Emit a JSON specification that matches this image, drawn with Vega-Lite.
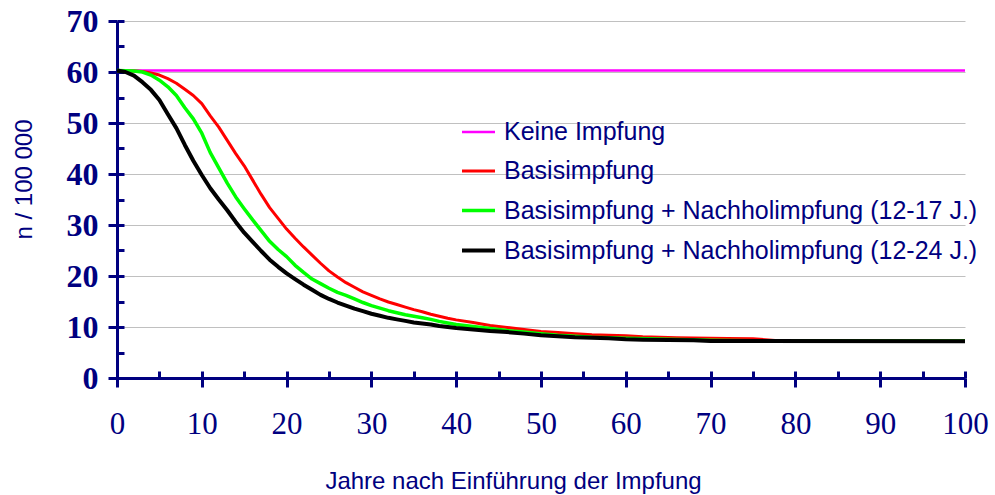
{
  "$schema": "https://vega.github.io/schema/vega-lite/v6.json",
  "width": 848,
  "height": 357,
  "autosize": "none",
  "padding": {"left": 117, "top": 21, "right": 30, "bottom": 117},
  "background": "white",
  "config": {"view": {"stroke": null}},
  "datasets": {
    "main": [
      {"year": 0, "series": "Keine Impfung", "value": 60.3},
      {"year": 100, "series": "Keine Impfung", "value": 60.3},

      {"year": 0, "series": "Basisimpfung", "value": 60.2},
      {"year": 2, "series": "Basisimpfung", "value": 60.2},
      {"year": 3, "series": "Basisimpfung", "value": 60.1},
      {"year": 4, "series": "Basisimpfung", "value": 59.8},
      {"year": 5, "series": "Basisimpfung", "value": 59.4},
      {"year": 6, "series": "Basisimpfung", "value": 58.7},
      {"year": 7, "series": "Basisimpfung", "value": 57.8},
      {"year": 8, "series": "Basisimpfung", "value": 56.6},
      {"year": 9, "series": "Basisimpfung", "value": 55.4},
      {"year": 10, "series": "Basisimpfung", "value": 53.8},
      {"year": 11, "series": "Basisimpfung", "value": 51.4},
      {"year": 12, "series": "Basisimpfung", "value": 49.2},
      {"year": 13, "series": "Basisimpfung", "value": 46.6},
      {"year": 14, "series": "Basisimpfung", "value": 44.0},
      {"year": 15, "series": "Basisimpfung", "value": 41.6},
      {"year": 16, "series": "Basisimpfung", "value": 38.8},
      {"year": 17, "series": "Basisimpfung", "value": 36.0},
      {"year": 18, "series": "Basisimpfung", "value": 33.4},
      {"year": 19, "series": "Basisimpfung", "value": 31.3},
      {"year": 20, "series": "Basisimpfung", "value": 29.2},
      {"year": 21, "series": "Basisimpfung", "value": 27.4},
      {"year": 22, "series": "Basisimpfung", "value": 25.7},
      {"year": 23, "series": "Basisimpfung", "value": 24.1},
      {"year": 24, "series": "Basisimpfung", "value": 22.5},
      {"year": 25, "series": "Basisimpfung", "value": 21.0},
      {"year": 26, "series": "Basisimpfung", "value": 19.8},
      {"year": 27, "series": "Basisimpfung", "value": 18.7},
      {"year": 28, "series": "Basisimpfung", "value": 17.8},
      {"year": 29, "series": "Basisimpfung", "value": 16.9},
      {"year": 30, "series": "Basisimpfung", "value": 16.2},
      {"year": 31, "series": "Basisimpfung", "value": 15.5},
      {"year": 32, "series": "Basisimpfung", "value": 14.9},
      {"year": 33, "series": "Basisimpfung", "value": 14.4},
      {"year": 34, "series": "Basisimpfung", "value": 13.9},
      {"year": 35, "series": "Basisimpfung", "value": 13.4},
      {"year": 36, "series": "Basisimpfung", "value": 13.0},
      {"year": 37, "series": "Basisimpfung", "value": 12.5},
      {"year": 38, "series": "Basisimpfung", "value": 12.1},
      {"year": 39, "series": "Basisimpfung", "value": 11.7},
      {"year": 40, "series": "Basisimpfung", "value": 11.4},
      {"year": 42, "series": "Basisimpfung", "value": 10.9},
      {"year": 44, "series": "Basisimpfung", "value": 10.3},
      {"year": 46, "series": "Basisimpfung", "value": 9.9},
      {"year": 48, "series": "Basisimpfung", "value": 9.5},
      {"year": 50, "series": "Basisimpfung", "value": 9.1},
      {"year": 52, "series": "Basisimpfung", "value": 8.9},
      {"year": 54, "series": "Basisimpfung", "value": 8.7},
      {"year": 56, "series": "Basisimpfung", "value": 8.5},
      {"year": 58, "series": "Basisimpfung", "value": 8.4},
      {"year": 60, "series": "Basisimpfung", "value": 8.3},
      {"year": 62, "series": "Basisimpfung", "value": 8.1},
      {"year": 64, "series": "Basisimpfung", "value": 8.0},
      {"year": 66, "series": "Basisimpfung", "value": 7.9},
      {"year": 68, "series": "Basisimpfung", "value": 7.85},
      {"year": 70, "series": "Basisimpfung", "value": 7.8},
      {"year": 72, "series": "Basisimpfung", "value": 7.75},
      {"year": 75, "series": "Basisimpfung", "value": 7.7},
      {"year": 78, "series": "Basisimpfung", "value": 7.3},
      {"year": 85, "series": "Basisimpfung", "value": 7.25},
      {"year": 100, "series": "Basisimpfung", "value": 7.25},

      {"year": 0, "series": "Basisimpfung + Nachholimpfung (12-17 J.)", "value": 60.3},
      {"year": 2, "series": "Basisimpfung + Nachholimpfung (12-17 J.)", "value": 60.2},
      {"year": 3, "series": "Basisimpfung + Nachholimpfung (12-17 J.)", "value": 60.0},
      {"year": 4, "series": "Basisimpfung + Nachholimpfung (12-17 J.)", "value": 59.4},
      {"year": 5, "series": "Basisimpfung + Nachholimpfung (12-17 J.)", "value": 58.4},
      {"year": 6, "series": "Basisimpfung + Nachholimpfung (12-17 J.)", "value": 57.1},
      {"year": 7, "series": "Basisimpfung + Nachholimpfung (12-17 J.)", "value": 55.4},
      {"year": 8, "series": "Basisimpfung + Nachholimpfung (12-17 J.)", "value": 53.0},
      {"year": 9, "series": "Basisimpfung + Nachholimpfung (12-17 J.)", "value": 50.8},
      {"year": 10, "series": "Basisimpfung + Nachholimpfung (12-17 J.)", "value": 48.0},
      {"year": 11, "series": "Basisimpfung + Nachholimpfung (12-17 J.)", "value": 44.2},
      {"year": 12, "series": "Basisimpfung + Nachholimpfung (12-17 J.)", "value": 41.2},
      {"year": 13, "series": "Basisimpfung + Nachholimpfung (12-17 J.)", "value": 38.2},
      {"year": 14, "series": "Basisimpfung + Nachholimpfung (12-17 J.)", "value": 35.5},
      {"year": 15, "series": "Basisimpfung + Nachholimpfung (12-17 J.)", "value": 33.2},
      {"year": 16, "series": "Basisimpfung + Nachholimpfung (12-17 J.)", "value": 31.0},
      {"year": 17, "series": "Basisimpfung + Nachholimpfung (12-17 J.)", "value": 28.9},
      {"year": 18, "series": "Basisimpfung + Nachholimpfung (12-17 J.)", "value": 26.8},
      {"year": 19, "series": "Basisimpfung + Nachholimpfung (12-17 J.)", "value": 25.2},
      {"year": 20, "series": "Basisimpfung + Nachholimpfung (12-17 J.)", "value": 23.8},
      {"year": 21, "series": "Basisimpfung + Nachholimpfung (12-17 J.)", "value": 22.1},
      {"year": 22, "series": "Basisimpfung + Nachholimpfung (12-17 J.)", "value": 20.7},
      {"year": 23, "series": "Basisimpfung + Nachholimpfung (12-17 J.)", "value": 19.4},
      {"year": 24, "series": "Basisimpfung + Nachholimpfung (12-17 J.)", "value": 18.5},
      {"year": 25, "series": "Basisimpfung + Nachholimpfung (12-17 J.)", "value": 17.6},
      {"year": 26, "series": "Basisimpfung + Nachholimpfung (12-17 J.)", "value": 16.8},
      {"year": 27, "series": "Basisimpfung + Nachholimpfung (12-17 J.)", "value": 16.2},
      {"year": 28, "series": "Basisimpfung + Nachholimpfung (12-17 J.)", "value": 15.5},
      {"year": 29, "series": "Basisimpfung + Nachholimpfung (12-17 J.)", "value": 14.8},
      {"year": 30, "series": "Basisimpfung + Nachholimpfung (12-17 J.)", "value": 14.2},
      {"year": 31, "series": "Basisimpfung + Nachholimpfung (12-17 J.)", "value": 13.7},
      {"year": 32, "series": "Basisimpfung + Nachholimpfung (12-17 J.)", "value": 13.2},
      {"year": 33, "series": "Basisimpfung + Nachholimpfung (12-17 J.)", "value": 12.8},
      {"year": 34, "series": "Basisimpfung + Nachholimpfung (12-17 J.)", "value": 12.4},
      {"year": 35, "series": "Basisimpfung + Nachholimpfung (12-17 J.)", "value": 12.1},
      {"year": 36, "series": "Basisimpfung + Nachholimpfung (12-17 J.)", "value": 11.8},
      {"year": 37, "series": "Basisimpfung + Nachholimpfung (12-17 J.)", "value": 11.5},
      {"year": 38, "series": "Basisimpfung + Nachholimpfung (12-17 J.)", "value": 11.1},
      {"year": 39, "series": "Basisimpfung + Nachholimpfung (12-17 J.)", "value": 10.8},
      {"year": 40, "series": "Basisimpfung + Nachholimpfung (12-17 J.)", "value": 10.5},
      {"year": 42, "series": "Basisimpfung + Nachholimpfung (12-17 J.)", "value": 10.1},
      {"year": 44, "series": "Basisimpfung + Nachholimpfung (12-17 J.)", "value": 9.7},
      {"year": 46, "series": "Basisimpfung + Nachholimpfung (12-17 J.)", "value": 9.3},
      {"year": 48, "series": "Basisimpfung + Nachholimpfung (12-17 J.)", "value": 9.0},
      {"year": 50, "series": "Basisimpfung + Nachholimpfung (12-17 J.)", "value": 8.7},
      {"year": 52, "series": "Basisimpfung + Nachholimpfung (12-17 J.)", "value": 8.4},
      {"year": 54, "series": "Basisimpfung + Nachholimpfung (12-17 J.)", "value": 8.2},
      {"year": 56, "series": "Basisimpfung + Nachholimpfung (12-17 J.)", "value": 8.0},
      {"year": 58, "series": "Basisimpfung + Nachholimpfung (12-17 J.)", "value": 7.9},
      {"year": 60, "series": "Basisimpfung + Nachholimpfung (12-17 J.)", "value": 7.8},
      {"year": 65, "series": "Basisimpfung + Nachholimpfung (12-17 J.)", "value": 7.6},
      {"year": 70, "series": "Basisimpfung + Nachholimpfung (12-17 J.)", "value": 7.4},
      {"year": 75, "series": "Basisimpfung + Nachholimpfung (12-17 J.)", "value": 7.3},
      {"year": 80, "series": "Basisimpfung + Nachholimpfung (12-17 J.)", "value": 7.25},
      {"year": 100, "series": "Basisimpfung + Nachholimpfung (12-17 J.)", "value": 7.25},

      {"year": 0, "series": "Basisimpfung + Nachholimpfung (12-24 J.)", "value": 60.3},
      {"year": 1, "series": "Basisimpfung + Nachholimpfung (12-24 J.)", "value": 60.0},
      {"year": 2, "series": "Basisimpfung + Nachholimpfung (12-24 J.)", "value": 59.3},
      {"year": 3, "series": "Basisimpfung + Nachholimpfung (12-24 J.)", "value": 58.0},
      {"year": 4, "series": "Basisimpfung + Nachholimpfung (12-24 J.)", "value": 56.5},
      {"year": 5, "series": "Basisimpfung + Nachholimpfung (12-24 J.)", "value": 54.5},
      {"year": 6, "series": "Basisimpfung + Nachholimpfung (12-24 J.)", "value": 51.7},
      {"year": 7, "series": "Basisimpfung + Nachholimpfung (12-24 J.)", "value": 49.0},
      {"year": 8, "series": "Basisimpfung + Nachholimpfung (12-24 J.)", "value": 45.7},
      {"year": 9, "series": "Basisimpfung + Nachholimpfung (12-24 J.)", "value": 42.6},
      {"year": 10, "series": "Basisimpfung + Nachholimpfung (12-24 J.)", "value": 39.8},
      {"year": 11, "series": "Basisimpfung + Nachholimpfung (12-24 J.)", "value": 37.2},
      {"year": 12, "series": "Basisimpfung + Nachholimpfung (12-24 J.)", "value": 35.0},
      {"year": 13, "series": "Basisimpfung + Nachholimpfung (12-24 J.)", "value": 32.9},
      {"year": 14, "series": "Basisimpfung + Nachholimpfung (12-24 J.)", "value": 30.6},
      {"year": 15, "series": "Basisimpfung + Nachholimpfung (12-24 J.)", "value": 28.5},
      {"year": 16, "series": "Basisimpfung + Nachholimpfung (12-24 J.)", "value": 26.7},
      {"year": 17, "series": "Basisimpfung + Nachholimpfung (12-24 J.)", "value": 24.9},
      {"year": 18, "series": "Basisimpfung + Nachholimpfung (12-24 J.)", "value": 23.2},
      {"year": 19, "series": "Basisimpfung + Nachholimpfung (12-24 J.)", "value": 21.8},
      {"year": 20, "series": "Basisimpfung + Nachholimpfung (12-24 J.)", "value": 20.5},
      {"year": 21, "series": "Basisimpfung + Nachholimpfung (12-24 J.)", "value": 19.4},
      {"year": 22, "series": "Basisimpfung + Nachholimpfung (12-24 J.)", "value": 18.3},
      {"year": 23, "series": "Basisimpfung + Nachholimpfung (12-24 J.)", "value": 17.3},
      {"year": 24, "series": "Basisimpfung + Nachholimpfung (12-24 J.)", "value": 16.3},
      {"year": 25, "series": "Basisimpfung + Nachholimpfung (12-24 J.)", "value": 15.5},
      {"year": 26, "series": "Basisimpfung + Nachholimpfung (12-24 J.)", "value": 14.8},
      {"year": 27, "series": "Basisimpfung + Nachholimpfung (12-24 J.)", "value": 14.2},
      {"year": 28, "series": "Basisimpfung + Nachholimpfung (12-24 J.)", "value": 13.6},
      {"year": 29, "series": "Basisimpfung + Nachholimpfung (12-24 J.)", "value": 13.1},
      {"year": 30, "series": "Basisimpfung + Nachholimpfung (12-24 J.)", "value": 12.6},
      {"year": 31, "series": "Basisimpfung + Nachholimpfung (12-24 J.)", "value": 12.2},
      {"year": 32, "series": "Basisimpfung + Nachholimpfung (12-24 J.)", "value": 11.8},
      {"year": 33, "series": "Basisimpfung + Nachholimpfung (12-24 J.)", "value": 11.5},
      {"year": 34, "series": "Basisimpfung + Nachholimpfung (12-24 J.)", "value": 11.2},
      {"year": 35, "series": "Basisimpfung + Nachholimpfung (12-24 J.)", "value": 10.9},
      {"year": 36, "series": "Basisimpfung + Nachholimpfung (12-24 J.)", "value": 10.7},
      {"year": 37, "series": "Basisimpfung + Nachholimpfung (12-24 J.)", "value": 10.5},
      {"year": 38, "series": "Basisimpfung + Nachholimpfung (12-24 J.)", "value": 10.2},
      {"year": 39, "series": "Basisimpfung + Nachholimpfung (12-24 J.)", "value": 10.0},
      {"year": 40, "series": "Basisimpfung + Nachholimpfung (12-24 J.)", "value": 9.8},
      {"year": 42, "series": "Basisimpfung + Nachholimpfung (12-24 J.)", "value": 9.5},
      {"year": 44, "series": "Basisimpfung + Nachholimpfung (12-24 J.)", "value": 9.2},
      {"year": 46, "series": "Basisimpfung + Nachholimpfung (12-24 J.)", "value": 9.0},
      {"year": 48, "series": "Basisimpfung + Nachholimpfung (12-24 J.)", "value": 8.7},
      {"year": 50, "series": "Basisimpfung + Nachholimpfung (12-24 J.)", "value": 8.4},
      {"year": 52, "series": "Basisimpfung + Nachholimpfung (12-24 J.)", "value": 8.2},
      {"year": 54, "series": "Basisimpfung + Nachholimpfung (12-24 J.)", "value": 8.0},
      {"year": 56, "series": "Basisimpfung + Nachholimpfung (12-24 J.)", "value": 7.9},
      {"year": 58, "series": "Basisimpfung + Nachholimpfung (12-24 J.)", "value": 7.8},
      {"year": 60, "series": "Basisimpfung + Nachholimpfung (12-24 J.)", "value": 7.6},
      {"year": 62, "series": "Basisimpfung + Nachholimpfung (12-24 J.)", "value": 7.5},
      {"year": 65, "series": "Basisimpfung + Nachholimpfung (12-24 J.)", "value": 7.45},
      {"year": 68, "series": "Basisimpfung + Nachholimpfung (12-24 J.)", "value": 7.4},
      {"year": 70, "series": "Basisimpfung + Nachholimpfung (12-24 J.)", "value": 7.25},
      {"year": 100, "series": "Basisimpfung + Nachholimpfung (12-24 J.)", "value": 7.2}
    ]
  },
  "data": {"name": "main"},
  "layer": [
    {
      "mark": {"type": "line", "strokeCap": "butt", "strokeJoin": "round"},
      "encoding": {
        "x": {
          "field": "year", "type": "quantitative",
          "scale": {"domain": [0, 100], "nice": false, "zero": false},
          "axis": {
            "orient": "bottom",
            "values": [0, 10, 20, 30, 40, 50, 60, 70, 80, 90, 100],
            "grid": false,
            "domainColor": "#000080", "domainWidth": 3,
            "tickColor": "#000080", "tickWidth": 3, "tickSize": 9,
            "labelFont": "Liberation Serif", "labelFontSize": 31, "labelColor": "#000080",
            "labelPadding": 22, "labelBaseline": "top", "labelFlush": false,
            "title": "Jahre nach Einführung der Impfung",
            "titleFont": "Liberation Sans", "titleFontSize": 24, "titleFontWeight": "normal",
            "titleColor": "#000080",
            "titleX": 396, "titleY": 110, "titleBaseline": "alphabetic", "titleAlign": "center"
          }
        },
        "y": {
          "field": "value", "type": "quantitative",
          "scale": {"domain": [0, 70], "nice": false},
          "axis": {
            "orient": "left",
            "values": [0, 10, 20, 30, 40, 50, 60, 70],
            "grid": true, "gridColor": "#c0c0c0", "gridWidth": 1,
            "domainColor": "#000080", "domainWidth": 3,
            "tickColor": "#000080", "tickWidth": 3, "tickSize": 9,
            "labelFont": "Liberation Serif", "labelFontSize": 32, "labelFontWeight": "bold",
            "labelColor": "#000080", "labelPadding": 10, "labelFlush": false,
            "title": "n / 100 000",
            "titleFont": "Liberation Sans", "titleFontSize": 24, "titleFontWeight": "normal",
            "titleColor": "#000080",
            "titleX": -93, "titleY": 158, "titleAngle": -90, "titleAlign": "center", "titleBaseline": "middle"
          }
        },
        "color": {
          "field": "series", "type": "nominal",
          "scale": {
            "domain": ["Keine Impfung", "Basisimpfung", "Basisimpfung + Nachholimpfung (12-17 J.)", "Basisimpfung + Nachholimpfung (12-24 J.)"],
            "range": ["#ff00ff", "#ff0000", "#00ff00", "#000000"]
          },
          "legend": {
            "orient": "none", "legendX": 343, "legendY": 93,
            "title": null, "symbolType": "stroke", "symbolSize": 1089,
            "labelFont": "Liberation Sans", "labelFontSize": 25, "labelColor": "#000080",
            "labelOffset": 7, "rowPadding": 8, "padding": 0, "labelLimit": 600
          }
        },
        "strokeWidth": {
          "field": "series", "type": "nominal",
          "scale": {
            "domain": ["Keine Impfung", "Basisimpfung", "Basisimpfung + Nachholimpfung (12-17 J.)", "Basisimpfung + Nachholimpfung (12-24 J.)"],
            "range": [2.5, 4, 4, 4]
          },
          "legend": {
            "orient": "none", "legendX": 343, "legendY": 93,
            "title": null, "symbolType": "stroke", "symbolSize": 1089,
            "labelFont": "Liberation Sans", "labelFontSize": 25, "labelColor": "#000080",
            "labelOffset": 7, "rowPadding": 8, "padding": 0, "labelLimit": 600
          }
        }
      }
    },
    {
      "mark": {"type": "line", "opacity": 0},
      "encoding": {
        "x": {
          "field": "year", "type": "quantitative",
          "axis": {
            "orient": "top", "offset": -357,
            "values": [0, 5, 10, 15, 20, 25, 30, 35, 40, 45, 50, 55, 60, 65, 70, 75, 80, 85, 90, 95, 100],
            "grid": false, "domain": false, "labels": false, "title": null,
            "tickColor": "#000080", "tickWidth": 3, "tickSize": 7
          }
        },
        "y": {
          "field": "value", "type": "quantitative",
          "axis": {
            "orient": "right", "offset": -848,
            "values": [0, 5, 10, 15, 20, 25, 30, 35, 40, 45, 50, 55, 60, 65, 70],
            "grid": false, "domain": false, "labels": false, "title": null,
            "tickColor": "#000080", "tickWidth": 3, "tickSize": 7
          }
        },
        "detail": {"field": "series", "type": "nominal"}
      }
    }
  ],
  "resolve": {"axis": {"x": "independent", "y": "independent"}}
}
